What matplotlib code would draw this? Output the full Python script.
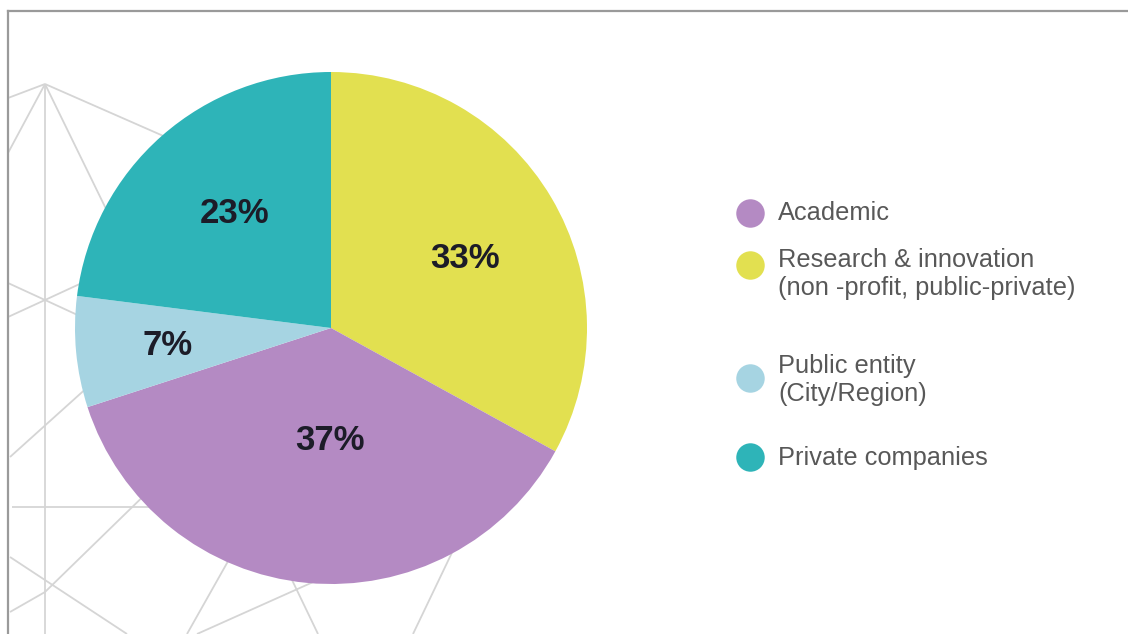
import numpy as np
import matplotlib
matplotlib.use("Agg")
import matplotlib.pyplot as plt

# ---- data -------------------------------------------------------------
categories = ["Academic",
              "Research & innovation\n(non -profit, public-private)",
              "Public entity\n(City/Region)",
              "Private companies"]
shares = [37, 33, 7, 23]
colors = ["#B48AC3", "#E2E050", "#A6D4E2", "#2EB4B8"]
pct_labels = ["37%", "33%", "7%", "23%"]

# order in which wedges are drawn clockwise from 12 o'clock
pie_order = [1, 0, 2, 3]

# ---- figure -----------------------------------------------------------
W, H = 1128, 634
fig = plt.figure(figsize=(W / 100, H / 100), dpi=100)
ax = fig.add_axes([0, 0, 1, 1])
ax.set_xlim(0, W)
ax.set_ylim(0, H)
ax.set_aspect("equal")
ax.axis("off")

def Y(y):
    return H - y

# decorative network lines in the background
net = [
    ((8, 98), (45, 84)), ((45, 84), (8, 153)), ((45, 84), (250, 174)),
    ((45, 84), (130, 258)), ((45, 84), (45, 640)),
    ((8, 283), (45, 300)), ((45, 300), (110, 330)),
    ((45, 300), (110, 270)), ((45, 300), (8, 317)),
    ((10, 457), (120, 358)), ((12, 507), (160, 507)),
    ((45, 592), (160, 480)), ((10, 612), (45, 592)),
    ((10, 557), (127, 634)),
    ((187, 634), (240, 540)), ((197, 634), (340, 570)),
    ((280, 555), (318, 634)), ((470, 515), (413, 634)),
]
for (x0, y0), (x1, y1) in net:
    ax.plot([x0, x1], [Y(y0), Y(y1)], color="#d5d5d5", lw=1.3,
            solid_capstyle="butt", zorder=1)

# frame lines at top and left
ax.plot([8, W], [Y(11), Y(11)], color="#9a9a9a", lw=1.6, zorder=1)
ax.plot([8, 8], [Y(11), Y(H + 5)], color="#9a9a9a", lw=1.6, zorder=1)

# ---- pie ---------------------------------------------------------------
cx, cy, R = 331, Y(328), 256
vals = [shares[i] for i in pie_order]
cols = [colors[i] for i in pie_order]
wedges, _ = ax.pie(vals, colors=cols, startangle=90, counterclock=False,
                   center=(cx, cy), radius=R, frame=True,
                   wedgeprops=dict(edgecolor="none", linewidth=0))
for w in wedges:
    w.set_zorder(2)
ax.set_xlim(0, W)
ax.set_ylim(0, H)
ax.axis("off")

# label placement: radius fraction and small angular nudge per wedge
label_r = {0: 0.44, 1: 0.59, 2: 0.64, 3: 0.585}
label_nudge = {0: 5.0, 1: -3.0, 2: 0.6, 3: -1.5}
for w, idx in zip(wedges, pie_order):
    mid = 0.5 * (w.theta1 + w.theta2) + label_nudge[idx]
    r = label_r[idx] * R
    x = cx + r * np.cos(np.radians(mid))
    y = cy + r * np.sin(np.radians(mid))
    ax.text(x, y, pct_labels[idx], ha="center", va="center",
            fontsize=25, fontweight="bold", family="Liberation Sans",
            color="#1c1c28", zorder=3)

# ---- legend --------------------------------------------------------------
leg_marker_y = [213, 265, 378, 457]
leg_text_y = [213, 274, 380, 458]
for i, cat in enumerate(categories):
    ax.plot(750, Y(leg_marker_y[i]), marker="o", markersize=20.5,
            color=colors[i], markeredgewidth=0, zorder=3)
    ax.text(778, Y(leg_text_y[i]), cat, ha="left", va="center",
            fontsize=18.3, family="Liberation Sans", color="#585858",
            linespacing=1.22, zorder=3)

fig.savefig("out.png", dpi=100, facecolor="white")
